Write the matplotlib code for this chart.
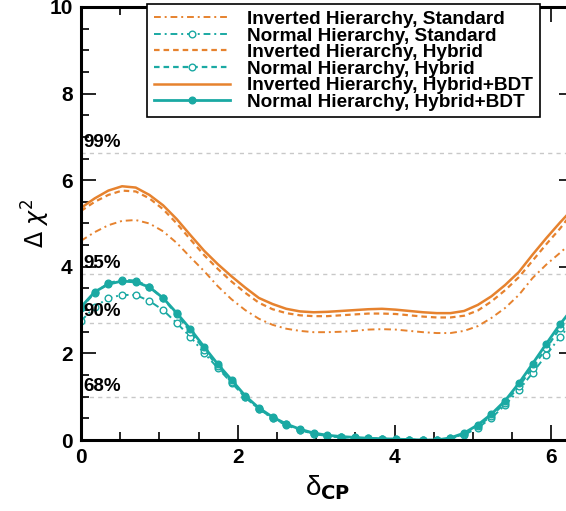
import numpy as np
import matplotlib
matplotlib.use("Agg")
import matplotlib.pyplot as plt

# delta_CP grid: 0..2pi in 10 degree steps
delta_cp = np.deg2rad(np.arange(0, 361, 10))

# Inverted hierarchy curves (orange)
ih_standard = [4.60, 4.80, 4.96, 5.06, 5.08, 5.00, 4.82, 4.55, 4.22, 3.90, 3.55, 3.25,
               3.00, 2.80, 2.66, 2.57, 2.52, 2.49, 2.49, 2.50, 2.52, 2.55, 2.56, 2.55,
               2.52, 2.49, 2.47, 2.47, 2.52, 2.63, 2.82, 3.05, 3.35, 3.74, 4.05, 4.32, 4.60]
ih_hybrid = [5.29, 5.50, 5.66, 5.76, 5.74, 5.58, 5.33, 5.00, 4.63, 4.27, 3.95, 3.66,
             3.40, 3.17, 3.02, 2.93, 2.88, 2.86, 2.86, 2.88, 2.90, 2.92, 2.92, 2.91,
             2.88, 2.85, 2.83, 2.83, 2.87, 2.99, 3.20, 3.46, 3.76, 4.14, 4.52, 4.88, 5.29]
ih_bdt = [5.36, 5.58, 5.76, 5.86, 5.83, 5.66, 5.42, 5.10, 4.73, 4.37, 4.06, 3.78,
          3.52, 3.28, 3.14, 3.03, 2.97, 2.95, 2.96, 2.98, 3.00, 3.02, 3.03, 3.01,
          2.98, 2.95, 2.93, 2.93, 2.98, 3.12, 3.32, 3.58, 3.88, 4.28, 4.66, 5.02, 5.36]

# Normal hierarchy curves (teal)
nh_standard = [2.75, 3.07, 3.28, 3.35, 3.35, 3.21, 3.00, 2.70, 2.38, 2.01, 1.66, 1.32,
               0.99, 0.71, 0.50, 0.34, 0.23, 0.14, 0.09, 0.06, 0.04, 0.03, 0.02, 0.01,
               0.00, 0.00, 0.00, 0.03, 0.12, 0.28, 0.51, 0.81, 1.15, 1.55, 1.96, 2.38, 2.75]
nh_hybrid = [3.05, 3.40, 3.62, 3.70, 3.68, 3.54, 3.27, 2.90, 2.50, 2.09, 1.70, 1.34,
             0.99, 0.72, 0.51, 0.36, 0.24, 0.15, 0.10, 0.07, 0.05, 0.04, 0.03, 0.02,
             0.01, 0.00, 0.00, 0.04, 0.14, 0.32, 0.56, 0.86, 1.24, 1.67, 2.12, 2.58, 3.05]
nh_bdt = [3.07, 3.42, 3.60, 3.67, 3.65, 3.53, 3.28, 2.93, 2.56, 2.15, 1.75, 1.39,
          1.02, 0.74, 0.53, 0.37, 0.25, 0.16, 0.11, 0.08, 0.06, 0.04, 0.03, 0.02,
          0.01, 0.00, 0.00, 0.05, 0.16, 0.35, 0.60, 0.91, 1.31, 1.76, 2.22, 2.67, 3.07]

# confidence levels
cl_values = [1.0, 2.71, 3.84, 6.63]
cl_labels = ["68%", "90%", "95%", "99%"]

orange = "#e6822e"
teal = "#1aa9a3"

plt.rcParams["font.family"] = ["Liberation Sans", "DejaVu Sans"]
plt.rcParams["mathtext.fontset"] = "dejavusans"

fig = plt.figure(figsize=(5.66, 5.11), dpi=100)
ax = fig.add_axes([81 / 566, 71 / 511, 492.6 / 566, 433 / 511])

for v, lab in zip(cl_values, cl_labels):
    ax.axhline(v, color="#c8c8c8", lw=1.0, ls=(0, (3, 3)), zorder=1)
    ax.text(0.03, v + 0.05, lab, fontsize=13.5, fontweight="bold", ha="left", va="bottom")

dd = (0, (3.5, 2, 1, 2))
ms = 4.8
ax.plot(delta_cp, ih_standard, color=orange, lw=1.4, ls=dd, label="Inverted Hierarchy, Standard")
ax.plot(delta_cp, nh_standard, color=teal, lw=1.4, ls=dd, marker="o", ms=ms,
        mfc="white", mec=teal, mew=1.0, label="Normal Hierarchy, Standard")
ax.plot(delta_cp, ih_hybrid, color=orange, lw=1.6, ls=(0, (2.5, 1.8)), label="Inverted Hierarchy, Hybrid")
ax.plot(delta_cp, nh_hybrid, color=teal, lw=1.6, ls=(0, (2.5, 1.8)), marker="o", ms=ms,
        mfc="white", mec=teal, mew=1.0, label="Normal Hierarchy, Hybrid")
ax.plot(delta_cp, ih_bdt, color=orange, lw=1.8, label="Inverted Hierarchy, Hybrid+BDT")
ax.plot(delta_cp, nh_bdt, color=teal, lw=2.0, marker="o", ms=ms,
        label="Normal Hierarchy, Hybrid+BDT")

ax.set_xlim(0, 2 * np.pi)
ax.set_ylim(0, 10)
ax.set_xticks([0, 2, 4, 6])
ax.set_yticks([0, 2, 4, 6, 8, 10])
ax.set_xticks(np.arange(0, 6.3, 0.5), minor=True)
ax.set_yticks(np.arange(0, 10.1, 0.5), minor=True)
ax.tick_params(which="both", direction="in", top=True, right=True, width=1.2)
ax.tick_params(which="major", length=11, labelsize=15, pad=6)
ax.tick_params(which="minor", length=5.5)
for lab in ax.get_xticklabels() + ax.get_yticklabels():
    lab.set_fontweight("bold")
for sp in ax.spines.values():
    sp.set_linewidth(2.2)

ax.set_xlabel("δ$_{\\mathbf{CP}}$", fontsize=20, labelpad=4)
ax.set_ylabel(r"$\Delta\ \chi^2$", fontsize=17, labelpad=-2)

leg = ax.legend(loc="upper left", bbox_to_anchor=(147 / 566, 1 - 4 / 511),
                bbox_transform=fig.transFigure, borderaxespad=0, frameon=True,
                fancybox=False, edgecolor="black", framealpha=1,
                prop={"size": 13.7, "weight": "bold"}, handlelength=4.0,
                handletextpad=0.9, labelspacing=-0.04, borderpad=0.35)
leg.get_frame().set_linewidth(1.2)

fig.savefig("out.png", dpi=100)
